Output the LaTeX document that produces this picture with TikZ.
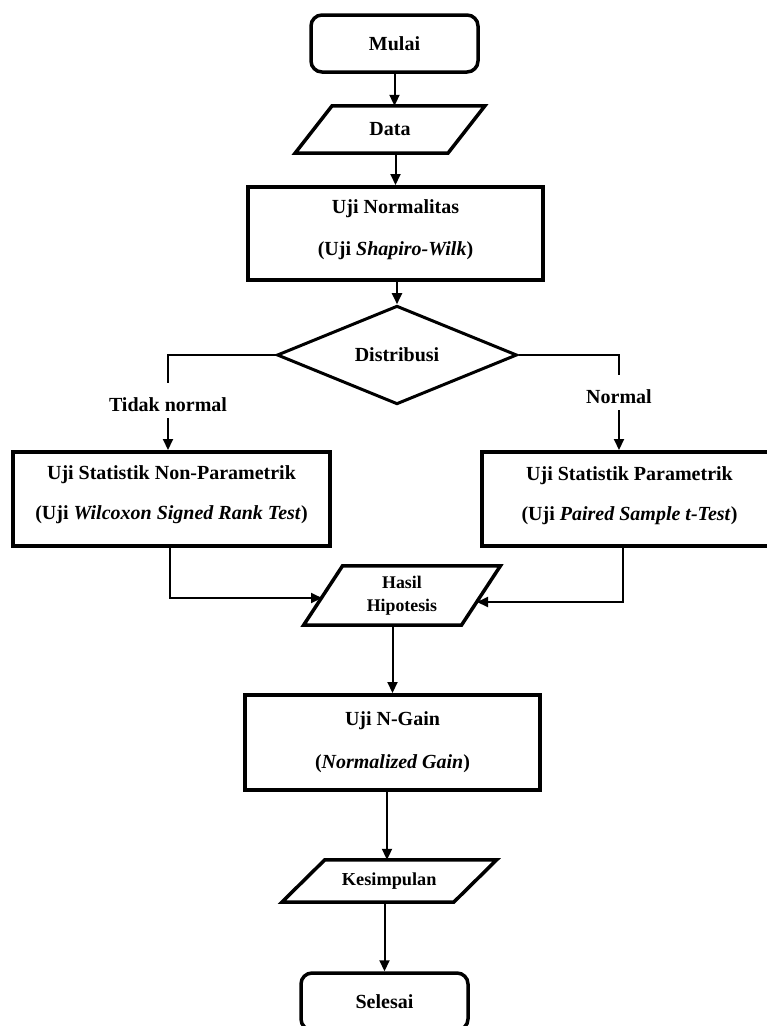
\documentclass[tikz,border=0pt]{standalone}
\usepackage{fontspec}
\setmainfont{Liberation Serif}
\usetikzlibrary{arrows.meta,shapes.geometric}
\newcommand{\paral}[2]{%
  \draw[paraline] ([xshift={-(#2)/2}]#1.south west) -- ([xshift={-(#2)/2}]#1.south east)
    -- ([xshift={(#2)/2}]#1.north east) -- ([xshift={(#2)/2}]#1.north west) -- cycle;}
\begin{document}
\begin{tikzpicture}[x=1pt,y=-1pt,
  term/.style={draw, line width=3.5pt, rounded corners=11pt, minimum width=167pt,
    minimum height=57pt, inner sep=0pt, font=\bfseries\fontsize{20}{23}\selectfont},
  procbox/.style={draw, line width=4pt, inner sep=0pt, align=center},
  iobox/.style={inner sep=0pt, align=center},
  decision/.style={draw, diamond, line width=3pt, minimum width=240pt,
    minimum height=84pt, inner sep=0pt, font=\bfseries\fontsize{20}{23}\selectfont},
  lbl/.style={inner sep=0pt, font=\bfseries\fontsize{20}{23}\selectfont},
  conn/.style={line width=2pt, -{Triangle[length=11pt,width=10pt]}},
  plainline/.style={line width=2pt},
  paraline/.style={line width=3.5pt, line join=miter}
]
\useasboundingbox (0,0) rectangle (767,1026);

% nodes
\node[term] (mulai) at (394.5,43.5) {Mulai};
\node[iobox, minimum width=152.5pt, minimum height=47pt,
  font=\bfseries\fontsize{20}{23}\selectfont] (data) at (390,129.5) {Data};
\paral{data}{37}
\node[procbox, minimum width=295pt, minimum height=93pt, text depth=12pt,
  font=\bfseries\fontsize{20}{42}\selectfont] (norm) at (395.5,233.5)
  {Uji Normalitas\\(Uji \textit{Shapiro-Wilk})};
\node[decision] (dist) at (397,355) {Distribusi};
\node[lbl] (tn) at (168,405) {Tidak normal};
\node[lbl] (nm) at (619,397) {Normal};
\node[procbox, minimum width=317pt, minimum height=94pt, text depth=12pt,
  font=\bfseries\fontsize{20}{40}\selectfont] (lbox) at (171.5,499)
  {Uji Statistik Non-Parametrik\\(Uji \textit{Wilcoxon Signed Rank Test})};
\node[procbox, minimum width=295pt, minimum height=94pt, text depth=10pt,
  font=\bfseries\fontsize{20}{40}\selectfont] (rbox) at (629.5,499)
  {Uji Statistik Parametrik\\(Uji \textit{Paired Sample t-Test})};
\node[iobox, minimum width=157.5pt, minimum height=59pt,
  font=\bfseries\fontsize{17.8}{23}\selectfont] (hasil) at (402,595.5)
  {Hasil\\Hipotesis};
\paral{hasil}{39}
\coordinate (hl) at (322,598);
\coordinate (hr) at (477,602);
\node[procbox, minimum width=295pt, minimum height=95pt,
  font=\bfseries\fontsize{20}{43}\selectfont] (ngain) at (392.5,742.5)
  {Uji N-Gain\\(\textit{Normalized Gain})};
\node[iobox, minimum width=171.5pt, minimum height=42pt,
  font=\bfseries\fontsize{18.3}{23}\selectfont] (kes) at (389.25,881) {Kesimpulan};
\paral{kes}{43}
\node[term] (selesai) at (384.5,1001.5) {Selesai};

% connectors
\draw[conn] (mulai.south) -- (mulai.south |- data.north);
\draw[conn] (norm.north |- data.south) -- (norm.north);
\draw[conn] (dist.north |- norm.south) -- (dist.north);
\draw[plainline] (dist.west) -| ([yshift=22pt]tn.center);
\draw[conn] ([yshift=-13pt]tn.center) -- (tn.center |- lbox.north);
\draw[plainline] (dist.east) -| ([yshift=22pt]nm.center);
\draw[conn] ([yshift=-13pt]nm.center) -- (nm.center |- rbox.north);
\draw[conn] ([xshift=-1.5pt]lbox.south) |- (hl);
\draw[conn] ([xshift=-6.5pt]rbox.south) |- (hr);
\draw[conn] (ngain.north |- hasil.south) -- (ngain.north);
\draw[conn] ([xshift=-5.5pt]ngain.south) -- ([xshift=-5.5pt]ngain.south |- kes.north);
\draw[conn] (selesai.north |- kes.south) -- (selesai.north);
\end{tikzpicture}
\end{document}
